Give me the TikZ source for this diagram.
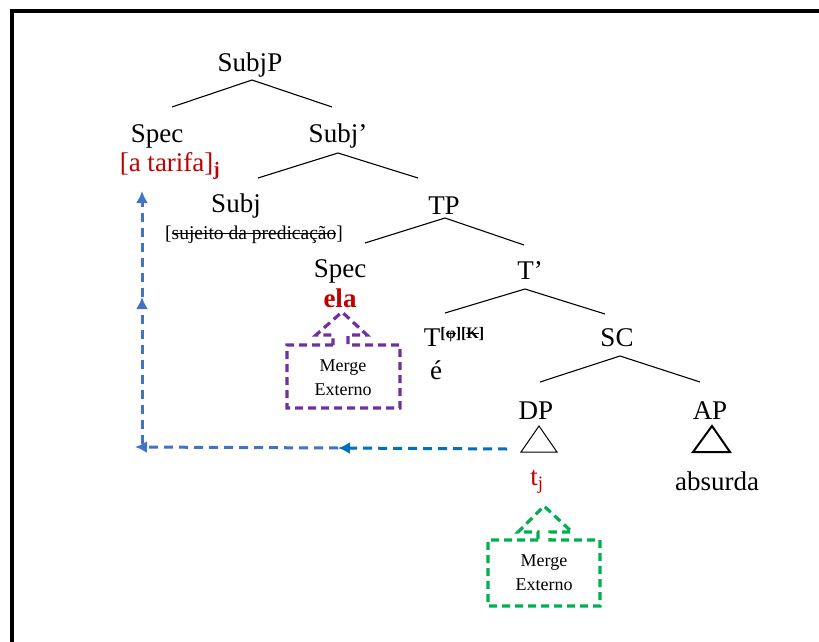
\documentclass[tikz,border=0pt]{standalone}
\usepackage{fontspec}
\setmainfont{Liberation Serif}
\usepackage{tikz}
\usetikzlibrary{arrows.meta}
\usetikzlibrary{calc}
\definecolor{ptred}{RGB}{192,0,0}
\definecolor{ptpurple}{RGB}{112,48,160}
\definecolor{ptgreen}{RGB}{0,176,80}
\definecolor{ptblue}{RGB}{68,114,196}
\definecolor{ptdarkblue}{RGB}{0,112,192}
\newcommand{\treefont}{\fontsize{27}{30}\selectfont}
\newcommand{\boxfont}{\fontsize{18}{24}\selectfont}
\newcommand{\strk}[1]{\setbox0\hbox{#1}\rlap{\rule[0.27em]{\wd0}{0.07em}}\box0}
\tikzset{
  label/.style={inner sep=0.75pt,font=\treefont},
  branch/.style={line width=1.1},
  mergebox/.style={line width=3.2,dash pattern={on 8pt off 5pt},line join=miter},
  moveline/.style={line width=3,dash pattern={on 9pt off 6pt},-{Latex[length=12pt,width=12pt]}}
}

\begin{document}
\begin{tikzpicture}[x=1pt,y=1pt,yscale=-1,xscale=1]
		\useasboundingbox (0,0) rectangle (819,642);
		\clip (0,0) rectangle (819,642);

		%Shape: Frame
		\draw [line width=4] (12,11) rectangle (840,670) ;

		% Text Node
		\node (subjp) at (250,65) [label] {SubjP};
		% Text Node
		\node (spec1) at (157,136) [label] {Spec};
		% Text Node
		\node (tarifa) at (170,166) [label,text=ptred] {[a tarifa]\textsubscript{\bfseries j}};
		% Text Node
		\node (subjbar) at (338,136) [label] {Subj’};
		% Text Node
		\node (subj) at (236,206) [label] {Subj};
		% Text Node
		\node (pred) at (254,235) [inner sep=0.75pt,font=\fontsize{19.5}{22}\selectfont] {[\strk{sujeito da predicação}]};
		% Text Node
		\node (tp) at (444,206) [label] {TP};
		% Text Node
		\node (spec2) at (340,271) [label] {Spec};
		% Text Node
		\node (ela) at (340,298) [label,text=ptred,font=\treefont\bfseries] {ela};
		% Text Node
		\node (tbar) at (530,271) [label] {T’};
		% Text Node
		\node (t) at (423,337) [label,anchor=west] {T\raisebox{8pt}{\fontsize{16}{18}\selectfont\bfseries[\strk{φ}][\strk{K}]}};
		% Text Node
		\node (e) at (436,370) [label] {é};
		% Text Node
		\node (sc) at (617,338) [label] {SC};
		% Text Node
		\node (dp) at (536,411) [label] {DP};
		% Text Node
		\node (ap) at (710,411) [label] {AP};
		% Text Node
		\node (tj) at (537,482) [label,text=ptred] {t\textsubscript{j}};
		% Text Node
		\node (absurda) at (717,481) [label] {absurda};

		%Straight Lines
		\draw [branch] ($(subjp)+(-78,42)$) -- ($(subjp)+(2,15)$) -- ($(subjp)+(82,42)$) ;
		\draw [branch] ($(subjbar)+(-80,42)$) -- ($(subjbar)+(0,17)$) -- ($(subjbar)+(80,42)$) ;
		\draw [branch] ($(tp)+(-79,37)$) -- ($(tp)+(1,12)$) -- ($(tp)+(80,39)$) ;
		\draw [branch] ($(tbar)+(-85,42)$) -- ($(tbar)+(-5,18)$) -- ($(tbar)+(75,43)$) ;
		\draw [branch] ($(sc)+(-77,44)$) -- ($(sc)+(3,18)$) -- ($(sc)+(83,44)$) ;

		%Shape: Triangle
		\draw [line width=1] ($(dp)+(3,15)$) -- ++(-18,26) -- ++(36,0) -- cycle ;
		\draw [line width=2] ($(ap)+(2,15)$) -- ++(-19,26) -- ++(37,0) -- cycle ;

		%Shape: Merge boxes
		\draw [mergebox,color=ptpurple] (333,345) -- (287,345) -- (287,408) -- (400,408) -- (400,345) -- (348,345) -- (348,335) -- (367,335) -- (342,312) -- (316,335) -- (333,335) -- cycle ;
		\node (merge1) at (343,378) [inner sep=0.75pt,font=\boxfont,align=center] {Merge\\Externo};
		\draw [mergebox,color=ptgreen] (538,540) -- (488,540) -- (488,606) -- (600,606) -- (600,540) -- (550,540) -- (550,532) -- (572,532) -- (544,506) -- (518,532) -- (538,532) -- cycle ;
		\node (merge2) at (544,573) [inner sep=0.75pt,font=\boxfont,align=center] {Merge\\Externo};

		%Straight Lines: movement
		\coordinate (mvstart) at (507,449);
		\coordinate (mvmid) at (338,448);
		\coordinate (mvcorner) at (135,447);
		\coordinate (mvup) at (142,297);
		\coordinate (mvtop) at (142,191);
		\draw [moveline,color=ptdarkblue] (mvstart) -- (mvmid) ;
		\draw [moveline,color=ptblue] (mvmid) -- (mvcorner) ;
		\draw [moveline,color=ptblue] (142,444) -- (mvup) ;
		\draw [moveline,color=ptblue] (mvup) -- (mvtop) ;
\end{tikzpicture}
\end{document}
